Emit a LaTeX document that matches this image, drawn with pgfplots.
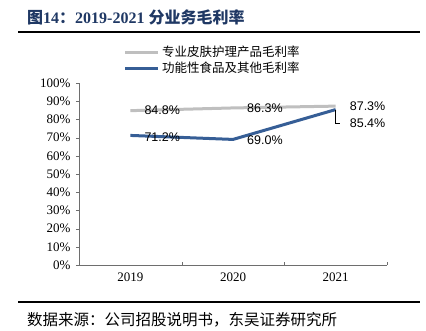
\documentclass[border=0pt]{standalone}
\usepackage{fontspec}
\usepackage{pgfplots}
\pgfplotsset{compat=1.18}
\setmainfont{Liberation Serif}
\newfontfamily\cjk{Noto Sans CJK SC}
\newfontfamily\arial{Liberation Sans}
\definecolor{gline}{RGB}{191,191,191}
\definecolor{bline}{RGB}{54,94,150}
\definecolor{tblue}{RGB}{31,56,100}
\definecolor{axgray}{RGB}{110,110,110}
\begin{document}
\begin{tikzpicture}
\useasboundingbox (0pt,-330pt) rectangle (426pt,0pt);
\node[anchor=base west, text=tblue, inner sep=0] at (27pt,-23pt) {\fontsize{16}{18}\selectfont\bfseries{\cjk 图}14{\cjk ：}2019-2021 {\cjk 分业务毛利率}};
\draw[line width=1.5pt] (18pt,-32pt) -- (420pt,-32pt);
\draw[line width=1.5pt] (18pt,-302pt) -- (420pt,-302pt);
\node[anchor=west, inner sep=0] at (27pt,-320pt) {\fontsize{15.5}{17}\selectfont\cjk 数据来源：公司招股说明书，东吴证券研究所};
\draw[gline, line width=3pt] (125pt,-52pt) -- (158pt,-52pt);
\node[anchor=west, inner sep=0] at (162pt,-52pt) {\fontsize{12.5}{14}\selectfont\cjk 专业皮肤护理产品毛利率};
\draw[bline, line width=3pt] (125pt,-68pt) -- (158pt,-68pt);
\node[anchor=west, inner sep=0] at (162pt,-68pt) {\fontsize{12.5}{14}\selectfont\cjk 功能性食品及其他毛利率};
\begin{axis}[
  at={(79pt,-265pt)}, anchor=south west,
  scale only axis, width=308pt, height=182pt,
  xmin=-0.5, xmax=2.5, ymin=0, ymax=100,
  axis lines=left, axis line style={-, axgray},
  clip=false,
  xtick={0,1,2}, xticklabels={2019,2020,2021},
  major x tick style={draw=none},
  minor xtick={-0.5,0.5,1.5,2.5},
  minor tick length=3pt,
  xtick align=inside,
  ytick={0,10,...,100},
  ytick align=outside,
  major tick length=3pt,
  tick style={axgray},
  yticklabel={\pgfmathprintnumber{\tick}\%},
  /pgf/number format/assume math mode=true,
  ticklabel style={font=\fontsize{13}{15}\selectfont},
  xticklabel style={yshift=-4pt},
  yticklabel style={xshift=-2pt},
]
\addplot[gline, line width=3pt] coordinates {(0,84.8) (1,86.3) (2,87.3)};
\addplot[bline, line width=3pt] coordinates {(0,71.2) (1,69.0) (2,85.4)};
\begin{scope}[every node/.style={anchor=west, inner sep=0, font=\arial\fontsize{12.5}{14}\selectfont}]
\node[xshift=14pt] at (axis cs:0,84.8) {84.8\%};
\node[xshift=14pt,yshift=-1.5pt] at (axis cs:0,71.2) {71.2\%};
\node[xshift=14pt] at (axis cs:1,86.3) {86.3\%};
\node[xshift=14pt,yshift=-1pt] at (axis cs:1,69.0) {69.0\%};
\node[xshift=14pt] at (axis cs:2,87.3) {87.3\%};
\node[xshift=14pt] at (axis cs:2,78.0) {85.4\%};
\end{scope}
\draw[black, line width=0.6pt] (axis cs:2,85.4) -- (axis cs:2,78.0) -- ([xshift=4pt]axis cs:2,78.0);
\end{axis}
\end{tikzpicture}
\end{document}
